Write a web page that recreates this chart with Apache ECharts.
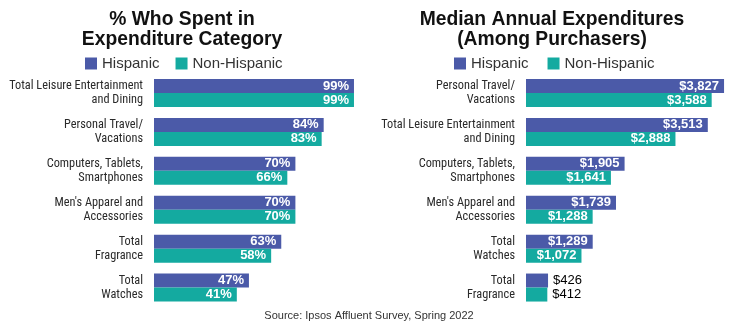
<!DOCTYPE html>
<html><head><meta charset="utf-8">
<script src="https://cdn.jsdelivr.net/npm/echarts@6/dist/echarts.min.js"></script>
<style>html,body{margin:0;padding:0;background:#fff}#c{width:734px;height:331px}</style>
</head><body><div id="c"></div>
<script>
const seriesNames = ['Hispanic', 'Non-Hispanic'];
const leftCategories = ['Total Leisure Entertainment\nand Dining', 'Personal Travel/\nVacations', 'Computers, Tablets,\nSmartphones', "Men's Apparel and\nAccessories", 'Total\nFragrance', 'Total\nWatches'];
const leftHispanic = [99, 84, 70, 70, 63, 47];
const leftNonHispanic = [99, 83, 66, 70, 58, 41];
const rightCategories = ['Personal Travel/\nVacations', 'Total Leisure Entertainment\nand Dining', 'Computers, Tablets,\nSmartphones', "Men's Apparel and\nAccessories", 'Total\nWatches', 'Total\nFragrance'];
const rightHispanic = [3827, 3513, 1905, 1739, 1289, 426];
const rightNonHispanic = [3588, 2888, 1641, 1288, 1072, 412];
const leftTitle = '% Who Spent in\nExpenditure Category';
const rightTitle = 'Median Annual Expenditures\n(Among Purchasers)';
const sourceText = 'Source: Ipsos Affluent Survey, Spring 2022';

const colors = ['#4b5aa8', '#14aaa0'];
const catFont = '"Roboto Condensed", "Liberation Sans", sans-serif';
const valFont = '"Liberation Sans", Arial, sans-serif';

function fmtDollar(v){ return '$' + v.toLocaleString('en-US'); }

function mkSeries(name, data, idx, color, fmt, outsideThreshold){
  return {
    name: name, type: 'bar', xAxisIndex: idx, yAxisIndex: idx,
    barWidth: 14, barGap: '0%', data: data.map(v => {
      const o = {value: v};
      if (outsideThreshold && v < outsideThreshold) {
        o.label = {position: 'right', distance: 5, color: '#000', fontWeight: 'normal'};
      }
      return o;
    }),
    itemStyle: {color: color},
    label: {show: true, position: 'insideRight', distance: 5, color: '#fff', fontWeight: 'bold',
      fontSize: 13, fontFamily: valFont, formatter: p => fmt(p.value)},
    animation: false
  };
}

const chart = echarts.init(document.getElementById('c'), null, {renderer: 'canvas'});
const axisCommon = {
  type: 'category', inverse: true,
  axisLine: {show: false}, axisTick: {show: false},
  axisLabel: {fontFamily: catFont, fontSize: 12.3, color: '#2a2a2a', margin: 11, lineHeight: 14, align: 'right'}
};
const titleStyle = {fontFamily: valFont, fontWeight: 'bold', color: '#111', lineHeight: 19.5, align: 'center'};
chart.setOption({
  animation: false,
  title: [
    {text: leftTitle, left: 182, top: 10, textAlign: 'center', padding: 0,
      textStyle: Object.assign({fontSize: 19.3}, titleStyle)},
    {text: rightTitle, left: 552, top: 10, textAlign: 'center', padding: 0,
      textStyle: Object.assign({fontSize: 19.3}, titleStyle)},
    {text: sourceText, left: 369, top: 310, textAlign: 'center', padding: 0,
      textStyle: {fontFamily: valFont, fontSize: 11, fontWeight: 'normal', color: '#333'}}
  ],
  legend: [
    {data: seriesNames, left: 85, top: 56, padding: 0, itemWidth: 12, itemHeight: 12, itemGap: 16, icon: 'rect',
      textStyle: {fontFamily: valFont, fontSize: 15, color: '#333'}},
    {data: seriesNames, left: 454, top: 56, padding: 0, itemWidth: 12, itemHeight: 12, itemGap: 19, icon: 'rect',
      textStyle: {fontFamily: valFont, fontSize: 15, color: '#333'}}
  ],
  grid: [
    {left: 154, top: 73.5, width: 202, height: 233.5, outerBoundsMode: 'none', containLabel: false},
    {left: 526, top: 73.5, width: 207, height: 233.5, outerBoundsMode: 'none', containLabel: false}
  ],
  xAxis: [
    {type: 'value', gridIndex: 0, min: 0, max: 100, show: false},
    {type: 'value', gridIndex: 1, min: 0, max: 4000, show: false}
  ],
  yAxis: [
    Object.assign({gridIndex: 0, data: leftCategories}, axisCommon),
    Object.assign({gridIndex: 1, data: rightCategories}, axisCommon)
  ],
  series: [
    mkSeries(seriesNames[0], leftHispanic, 0, colors[0], v => v + '%'),
    mkSeries(seriesNames[1], leftNonHispanic, 0, colors[1], v => v + '%'),
    mkSeries(seriesNames[0], rightHispanic, 1, colors[0], fmtDollar, 800),
    mkSeries(seriesNames[1], rightNonHispanic, 1, colors[1], fmtDollar, 800)
  ]
});
</script></body></html>
